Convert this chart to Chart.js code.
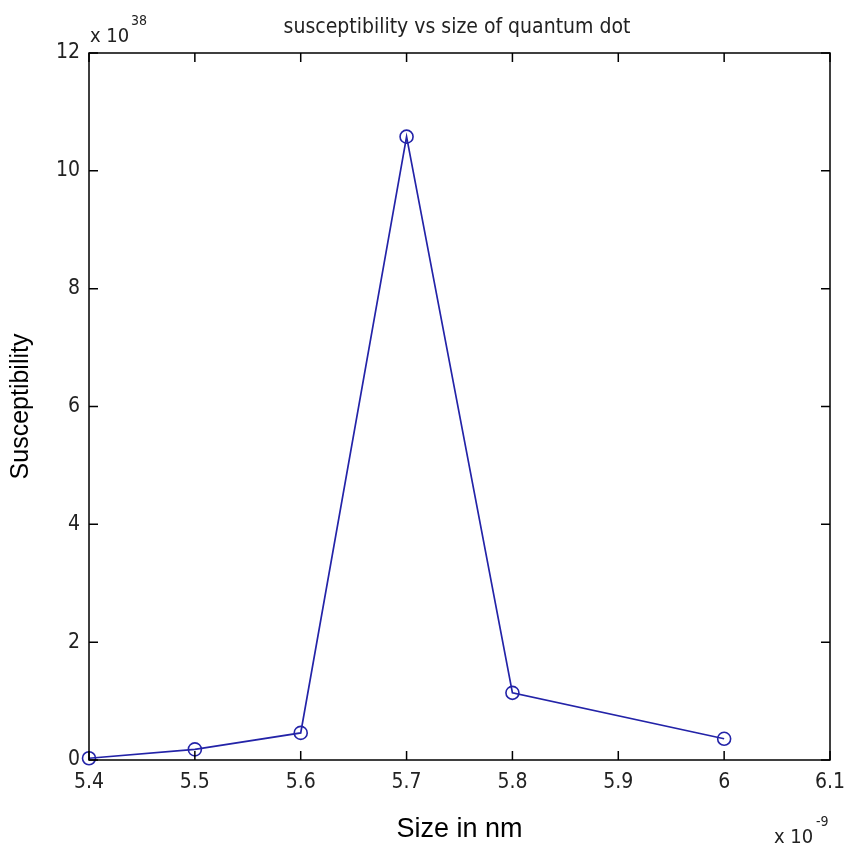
<!DOCTYPE html>
<html>
<head>
<meta charset="utf-8">
<script src="https://cdn.jsdelivr.net/npm/chart.js@4.4.0/dist/chart.umd.min.js"></script>
<style>
	html, body { margin: 0; padding: 0; background: #fff; }
	#wrap { width: 846px; height: 849px; }
</style>
</head>
<body>
<div id="wrap"><canvas id="qdChart" width="846" height="849"></canvas></div>
<script>
/* ── 데이터 ── */
const sizes          = [5.4, 5.5, 5.6, 5.7, 5.8, 6.0];
const susceptibility = [0.03, 0.18, 0.46, 10.58, 1.14, 0.36];
const xTicks = [5.4, 5.5, 5.6, 5.7, 5.8, 5.9, 6.0, 6.1];
const yTicks = [0, 2, 4, 6, 8, 10, 12];

const chartTitle = 'susceptibility vs size of quantum dot';
const xLabel = 'Size in nm';
const yLabel = 'Susceptibility';

const narrow = '"Liberation Sans Narrow", "DejaVu Sans Condensed", "Liberation Sans", sans-serif';
const lineColor = '#2323a8';

/* ── 박스 + 안쪽 눈금 + 지수 표기 ── */
const matlabFrame = {
	id: 'matlabFrame',
	afterDraw(chart) {
		const ctx = chart.ctx;
		const a = chart.chartArea;
		const xs = chart.scales.x, ys = chart.scales.y;
		const tl = 9;
		ctx.save();
		ctx.strokeStyle = '#000';
		ctx.lineWidth = 1.5;
		ctx.strokeRect(a.left, a.top, a.right - a.left, a.bottom - a.top);
		ctx.beginPath();
		xTicks.forEach(function(v) {
			const px = xs.getPixelForValue(v);
			ctx.moveTo(px, a.bottom); ctx.lineTo(px, a.bottom - tl);
			ctx.moveTo(px, a.top);    ctx.lineTo(px, a.top + tl);
		});
		yTicks.forEach(function(v) {
			const py = ys.getPixelForValue(v);
			ctx.moveTo(a.left, py);  ctx.lineTo(a.left + tl, py);
			ctx.moveTo(a.right, py); ctx.lineTo(a.right - tl, py);
		});
		ctx.stroke();

		ctx.fillStyle = '#222';
		// 제목
		ctx.font = '21px ' + narrow;
		ctx.textAlign = 'center';
		ctx.textBaseline = 'alphabetic';
		ctx.fillText(chartTitle, 457, 33);

		// y 지수 x 10^38
		ctx.textAlign = 'left';
		ctx.font = '20px ' + narrow;
		ctx.fillText('x 10', a.left + 1, 42);
		ctx.font = '14px ' + narrow;
		ctx.fillText('38', a.left + 42, 25);

		// x 지수 x 10^-9
		ctx.font = '20px ' + narrow;
		ctx.fillText('x 10', 774, 843);
		ctx.font = '14px ' + narrow;
		ctx.fillText('-9', 816, 826);
		ctx.restore();
	}
};

const ctx = document.getElementById('qdChart').getContext('2d');
new Chart(ctx, {
	type: 'line',
	data: {
		datasets: [{
			data: sizes.map(function(s, i) { return { x: s, y: susceptibility[i] }; }),
			borderColor: lineColor,
			borderWidth: 1.7,
			backgroundColor: 'rgba(0,0,0,0)',
			pointStyle: 'circle',
			pointRadius: 6.5,
			pointBorderWidth: 1.6,
			pointBorderColor: lineColor,
			pointBackgroundColor: 'rgba(0,0,0,0)',
			tension: 0,
			clip: false
		}]
	},
	options: {
		responsive: false,
		animation: false,
		layout: { padding: { top: 53, right: 16, left: 0, bottom: 0 } },
		plugins: {
			legend: { display: false },
			tooltip: { enabled: false },
			title: { display: false }
		},
		scales: {
			x: {
				type: 'linear',
				min: 5.4, max: 6.1,
				afterBuildTicks: function(s) { s.ticks = xTicks.map(function(v) { return { value: v }; }); },
				afterFit: function(s) { s.height = 89; s.paddingLeft = 0; s.paddingRight = 0; },
				grid: { display: false, drawTicks: false },
				border: { display: false },
				ticks: {
					padding: 10,
					color: '#222',
					font: { family: narrow, size: 21 },
					callback: function(v) { return String(parseFloat(Number(v).toFixed(1))); }
				},
				title: {
					display: true, text: xLabel, color: '#000',
					font: { family: 'Liberation Sans, Arial, sans-serif', size: 27 },
					padding: { top: 0, bottom: 3 }
				}
			},
			y: {
				min: 0, max: 12,
				afterBuildTicks: function(s) { s.ticks = yTicks.map(function(v) { return { value: v }; }); },
				afterFit: function(s) { s.width = 89; s.paddingTop = 0; s.paddingBottom = 0; },
				grid: { display: false, drawTicks: false },
				border: { display: false },
				ticks: {
					padding: 9,
					color: '#222',
					font: { family: narrow, size: 21 },
					callback: function(v) { return String(v); }
				},
				title: {
					display: true, text: yLabel, color: '#000',
					font: { family: 'Liberation Sans, Arial, sans-serif', size: 25 },
					padding: { top: 6, bottom: 0 }
				}
			}
		}
	},
	plugins: [matlabFrame]
});
</script>
</body>
</html>
